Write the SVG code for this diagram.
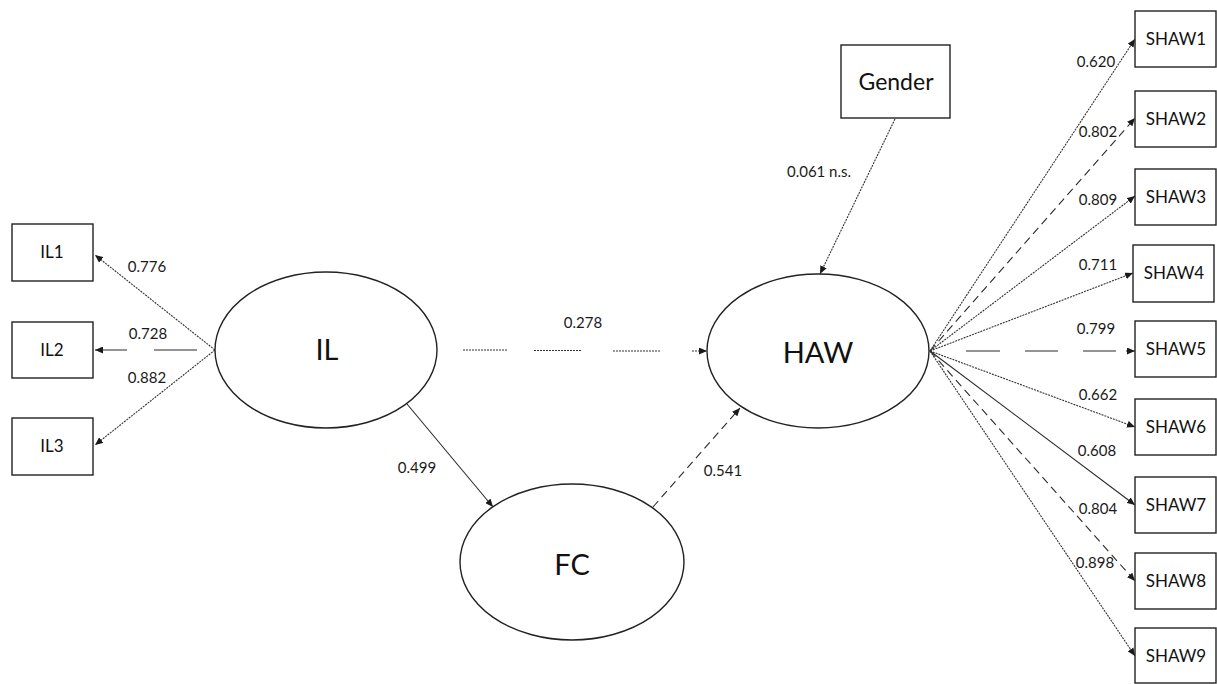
<svg xmlns="http://www.w3.org/2000/svg" width="1217" height="684" viewBox="0 0 1217 684">
<defs>
<marker id="arr" viewBox="0 0 8 7" refX="8" refY="3.5" markerWidth="8" markerHeight="7" markerUnits="userSpaceOnUse" orient="auto">
<path d="M0,0 L8,3.5 L0,7 z" fill="#1a1a1a"/>
</marker>
<style>
.box{fill:#fff;stroke:#222;stroke-width:1.4}
.ell{fill:#fff;stroke:#222;stroke-width:1.4}
.t{font-family:Lato,"Liberation Sans",sans-serif;fill:#111;text-anchor:middle}
.tb{font-size:17px}
.tl{font-size:29px}
.tg{font-size:23px}
.lbl{font-family:Lato,"Liberation Sans",sans-serif;fill:#1a1a1a;font-size:15px;text-anchor:middle}
.e{fill:none;stroke:#2a2a2a;stroke-width:1.1}
.dot{stroke:#333;stroke-dasharray:2 1}
.dash{stroke-dasharray:8 5}
.arr{marker-end:url(#arr)}
</style>
</defs>
<rect width="1217" height="684" fill="#fff"/>

<g id="connectors">
<line class="e dot arr" x1="215" y1="350" x2="95" y2="255"/>
<line class="e arr" x1="215" y1="350" x2="95" y2="350" stroke-dasharray="43 27" stroke-dashoffset="52"/>
<line class="e dot arr" x1="215" y1="350" x2="95" y2="445"/>

<g class="e dot">
<line x1="463" y1="350" x2="507" y2="350"/>
<line x1="534" y1="350.5" x2="581" y2="350.5"/>
<line x1="613" y1="351" x2="660" y2="351"/>
<line class="arr" x1="692" y1="351" x2="707" y2="351"/>
</g>

<line class="e dot arr" x1="895" y1="119" x2="820" y2="274"/>
<line class="e arr" x1="407" y1="404" x2="493" y2="507"/>
<line class="e dash arr" x1="653" y1="507" x2="740" y2="408"/>

<line class="e dot arr" x1="930" y1="351" x2="1135" y2="39"/>
<line class="e dash arr" x1="930" y1="351" x2="1135" y2="118"/>
<line class="e dot arr" x1="930" y1="351" x2="1135" y2="196"/>
<line class="e dot arr" x1="930" y1="351" x2="1133" y2="273"/>
<line class="e arr" x1="930" y1="351" x2="1135" y2="351" stroke-dasharray="0 36 34 25 33 25 33 10 40"/>
<line class="e dot arr" x1="930" y1="351" x2="1135" y2="427"/>
<line class="e arr" x1="930" y1="351" x2="1135" y2="505" stroke="#3a3a3a"/>
<line class="e dash arr" x1="930" y1="351" x2="1135" y2="581"/>
<line class="e dot arr" x1="930" y1="351" x2="1135" y2="656"/>
</g>

<g id="edge-labels">
<text class="lbl" x="147" y="272">0.776</text>
<text class="lbl" x="148" y="339">0.728</text>
<text class="lbl" x="147" y="383">0.882</text>
<text class="lbl" x="583" y="328">0.278</text>
<text class="lbl" x="819" y="177">0.061 n.s.</text>
<text class="lbl" x="417" y="473">0.499</text>
<text class="lbl" x="723" y="476">0.541</text>
<text class="lbl" x="1096" y="67">0.620</text>
<text class="lbl" x="1098" y="137">0.802</text>
<text class="lbl" x="1098" y="205">0.809</text>
<text class="lbl" x="1098" y="270">0.711</text>
<text class="lbl" x="1096" y="334">0.799</text>
<text class="lbl" x="1098" y="400">0.662</text>
<text class="lbl" x="1097" y="456">0.608</text>
<text class="lbl" x="1098" y="514">0.804</text>
<text class="lbl" x="1095" y="568">0.898</text>
</g>

<g id="IL1"><rect class="box" x="12" y="224" width="81" height="57"/><text class="t tb" x="52" y="258">IL1</text></g>
<g id="IL2"><rect class="box" x="12" y="322" width="81" height="56"/><text class="t tb" x="52" y="356">IL2</text></g>
<g id="IL3"><rect class="box" x="12" y="418" width="81" height="57"/><text class="t tb" x="52" y="452">IL3</text></g>

<g id="IL"><ellipse class="ell" cx="326" cy="350" rx="111" ry="78"/><text class="t tl" x="327" y="360">IL</text></g>
<g id="HAW"><ellipse class="ell" cx="818" cy="351" rx="111" ry="77"/><text class="t tl" x="818" y="363">HAW</text></g>
<g id="FC"><ellipse class="ell" cx="572" cy="562" rx="112" ry="78"/><text class="t tl" x="572" y="575">FC</text></g>

<g id="Gender"><rect class="box" x="841" y="45" width="109" height="73"/><text class="t tg" x="896" y="90">Gender</text></g>

<g id="SHAW1"><rect class="box" x="1135" y="11" width="81" height="56"/><text class="t tb" x="1176" y="45">SHAW1</text></g>
<g id="SHAW2"><rect class="box" x="1135" y="91" width="81" height="56"/><text class="t tb" x="1176" y="125">SHAW2</text></g>
<g id="SHAW3"><rect class="box" x="1135" y="169" width="81" height="56"/><text class="t tb" x="1176" y="203">SHAW3</text></g>
<g id="SHAW4"><rect class="box" x="1133" y="245" width="81" height="57"/><text class="t tb" x="1174" y="279">SHAW4</text></g>
<g id="SHAW5"><rect class="box" x="1135" y="321" width="81" height="56"/><text class="t tb" x="1176" y="355">SHAW5</text></g>
<g id="SHAW6"><rect class="box" x="1135" y="399" width="81" height="56"/><text class="t tb" x="1176" y="433">SHAW6</text></g>
<g id="SHAW7"><rect class="box" x="1135" y="477" width="81" height="56"/><text class="t tb" x="1176" y="511">SHAW7</text></g>
<g id="SHAW8"><rect class="box" x="1135" y="553" width="81" height="56"/><text class="t tb" x="1176" y="587">SHAW8</text></g>
<g id="SHAW9"><rect class="box" x="1135" y="628" width="81" height="55"/><text class="t tb" x="1176" y="662">SHAW9</text></g>
</svg>
